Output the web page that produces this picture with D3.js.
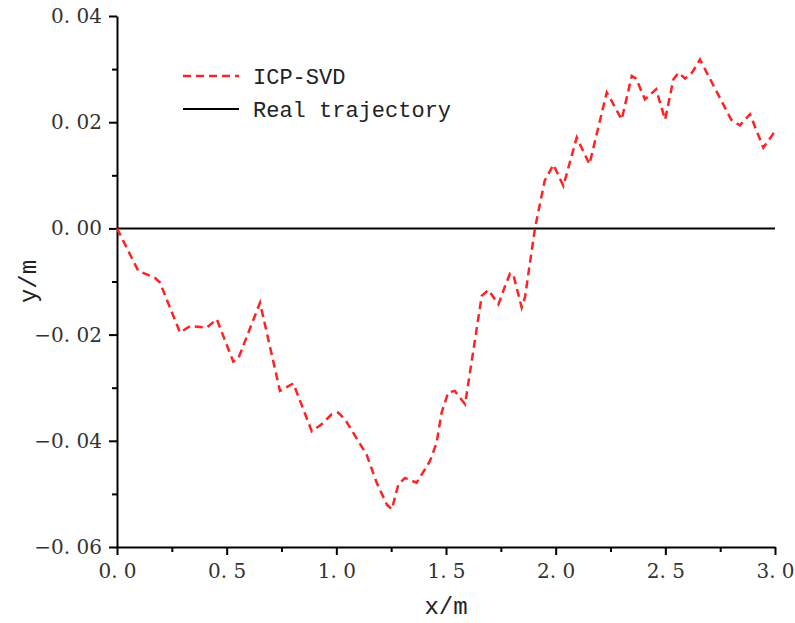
<!DOCTYPE html>
<meta charset="utf-8">
<style>
body { margin: 0; background: #fff; }
text { font-family: "Liberation Mono", "DejaVu Sans Mono", monospace; fill: #222; }
.axis path, .axis line { stroke: #000; stroke-width: 2px; }
.axis text { font-size: 20px; fill: #333; }
.icp { fill: none; stroke: #f22; stroke-width: 2.5px; stroke-dasharray: 8,5; }
.real { stroke: #000; stroke-width: 2px; }
</style>
<svg width="795" height="623"></svg>
<script src="https://cdn.jsdelivr.net/npm/d3@7/dist/d3.min.js"></script>
<script>
// ICP-SVD estimate
const xs = [0, 0.097, 0.173, 0.196, 0.287, 0.333, 0.409, 0.455, 0.530, 0.553,
    0.652, 0.743, 0.804, 0.888, 0.933, 0.979, 1.009, 1.040, 1.138, 1.184,
    1.230, 1.253, 1.283, 1.313, 1.366, 1.427, 1.457, 1.480, 1.510, 1.540,
    1.587, 1.663, 1.693, 1.739, 1.769, 1.792, 1.807, 1.845, 1.860, 1.906,
    1.950, 1.990, 2.035, 2.096, 2.154, 2.233, 2.255, 2.301, 2.347, 2.367,
    2.407, 2.458, 2.499, 2.537, 2.560, 2.590, 2.621, 2.658, 2.800, 2.840,
    2.886, 2.947, 2.990, 3.000];
const ys = [0, -0.0080, -0.0093, -0.0102, -0.0196, -0.0184, -0.0187, -0.0171, -0.0251, -0.0245,
    -0.0140, -0.0306, -0.0292, -0.0382, -0.0369, -0.0350, -0.0347, -0.0360, -0.0426, -0.0479,
    -0.0520, -0.0529, -0.0482, -0.0470, -0.0479, -0.0438, -0.0404, -0.0347, -0.0309, -0.0306,
    -0.0331, -0.0127, -0.0116, -0.0143, -0.0109, -0.0085, -0.0087, -0.0149, -0.0130, 0.0001,
    0.0090, 0.0120, 0.0080, 0.0171, 0.0121, 0.0256, 0.0240, 0.0205, 0.0287, 0.0282,
    0.0243, 0.0262, 0.0205, 0.0281, 0.0293, 0.0282, 0.0293, 0.0318, 0.0205, 0.0194,
    0.0215, 0.0152, 0.0177, 0.0187];
const realXs = [0, 3];
const realYs = [0, 0];

const xTicks = [0, 0.5, 1, 1.5, 2, 2.5, 3];
const xMinor = [0.25, 0.75, 1.25, 1.75, 2.25, 2.75];
const yTicks = [-0.06, -0.04, -0.02, 0, 0.02, 0.04];
const yMinor = [-0.05, -0.03, -0.01, 0.01, 0.03];
const seriesNames = ['ICP-SVD', 'Real trajectory'];

let svg = d3.select('svg'),
    margin = {top: 16, right: 20, bottom: 76, left: 117},
    width = +svg.attr('width') - margin.left - margin.right,
    height = +svg.attr('height') - margin.top - margin.bottom;

let g = svg.append('g').attr('transform', `translate(${margin.left},${margin.top})`);

let x = d3.scaleLinear().domain([0, 3]).range([0, width]);
let y = d3.scaleLinear().domain([-0.06, 0.04]).range([height, 0]);

// minor ticks first
g.append('g').attr('class', 'axis')
    .attr('transform', `translate(0,${height})`)
    .call(d3.axisBottom(x).tickValues(xMinor).tickSize(5).tickFormat(''))
    .select('.domain').remove();
g.append('g').attr('class', 'axis')
    .call(d3.axisLeft(y).tickValues(yMinor).tickSize(5).tickFormat(''))
    .select('.domain').remove();

g.append('g').attr('class', 'axis')
    .attr('transform', `translate(0,${height})`)
    .call(d3.axisBottom(x).tickValues(xTicks).tickSize(8).tickSizeOuter(0).tickPadding(9)
        .tickFormat(d => d3.format('.1f')(d).replace('.', '. ')));

g.append('g').attr('class', 'axis')
    .call(d3.axisLeft(y).tickValues(yTicks).tickSize(8).tickSizeOuter(0).tickPadding(7)
        .tickFormat(d => d3.format('.2f')(d).replace('.', '. ').replace('-', '\u2212')));

g.selectAll('.axis text').style('font-family', '"DejaVu Serif", serif');

// real trajectory
g.append('line').attr('class', 'real')
    .attr('x1', x(realXs[0])).attr('y1', y(realYs[0]))
    .attr('x2', x(realXs[1])).attr('y2', y(realYs[1]));

let line = d3.line().x(i => x(xs[i])).y(i => y(ys[i]));
g.append('path').attr('class', 'icp').attr('d', line(d3.range(xs.length)));

// legend
let lg = svg.append('g').attr('transform', 'translate(183,76)');
lg.append('line').attr('class', 'icp').attr('x1', 0).attr('x2', 56).attr('y1', 0).attr('y2', 0);
lg.append('line').attr('class', 'real').attr('x1', 0).attr('x2', 56).attr('y1', 33).attr('y2', 33);
lg.selectAll('text.lab').data(seriesNames).enter().append('text')
    .attr('class', 'lab')
    .attr('x', 70).attr('y', (d, i) => i * 33 + 8)
    .style('font-size', '22px')
    .text(d => d);

// axis titles
svg.append('text')
    .attr('x', margin.left + width / 2).attr('y', 614)
    .attr('text-anchor', 'middle')
    .style('font-size', '24px')
    .text('x/m');
svg.append('text')
    .attr('transform', `translate(36,${margin.top + height / 2}) rotate(-90)`)
    .attr('text-anchor', 'middle')
    .style('font-size', '24px')
    .text('y/m');
</script>
